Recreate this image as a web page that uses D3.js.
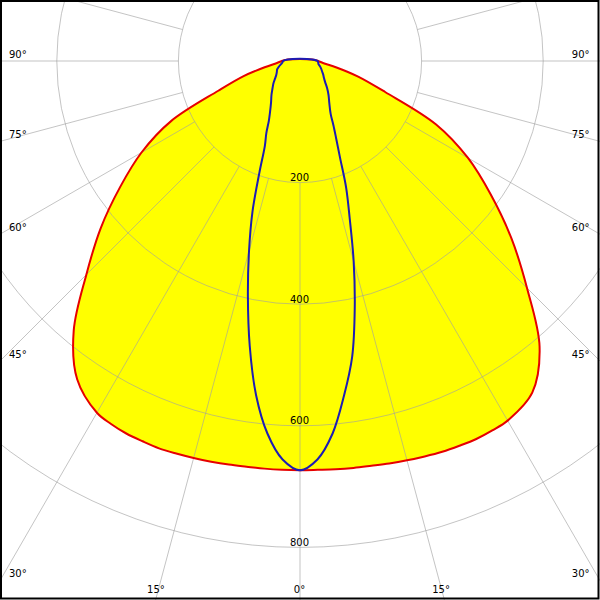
<!DOCTYPE html>
<html><head><meta charset="utf-8">
<script src="https://cdn.jsdelivr.net/npm/d3@7"></script>
<style>html,body{margin:0;padding:0;background:#fff}svg{display:block}</style>
</head><body>
<svg id="c" width="600" height="600"></svg>
<script>
// gamma angles (degrees from nadir)
const angles    = [0,2.5,5,7.5,10,12.5,15,17.5,20,22.5,25,27.5,30,35,40,45,50,55,60,65,70,75,80,85,90,97.5];
// C180 plane (left half) and C0 plane (right half), cd/klm
const redLeft   = [673,673,673,673,674,675,676,677,678,677,676,673,668,639,579,497,428,361,301,234,143,96,59,38,30,20];
const redRight  = [673,673,674,675,676,678,680,682,684,685,686,685,683,666,613,528,454,383,319,247,149,99,61,38,30,20];
// C270 plane (left half) and C90 plane (right half)
const blueLeft  = [673,656,615,554,476,396,324,260,195,151,131,111,99,83,73,64,57,50,45,42,40,36,32,29,28,20];
const blueRight = [673,656,615,555,494,416,341,272,222,172,141,119,101,84,73,63,54,48,44,40,37,34,31,30,29,20];
const ringValues = [200,400,600,800];
const sideAngleLabels = [90,75,60,45,30];
const bottomAngleLabels = [15,0];

const W = 600, H = 600, cx = 300, cy = 61;
const rad = d => d * Math.PI / 180;
const r = d3.scaleLinear().domain([0, 1000]).range([0, 608]);
const svg = d3.select('#c');
svg.append('rect').attr('width', W).attr('height', H).attr('fill', '#fff');

function curvePoints(left, right) {
  const pts = [];
  for (let i = angles.length - 1; i >= 0; i--) pts.push([Math.PI - rad(angles[i]), r(right[i])]);
  for (let i = 1; i < angles.length; i++) pts.push([Math.PI + rad(angles[i]), r(left[i])]);
  return pts;
}
const radial = d3.lineRadial().angle(d => d[0]).radius(d => d[1]).curve(d3.curveCatmullRomClosed.alpha(0.5));

const plot = svg.append('g').attr('transform', `translate(${cx},${cy})`);
const redPts = curvePoints(redLeft, redRight);
const bluePts = curvePoints(blueLeft, blueRight);

plot.append('path').attr('d', radial(redPts)).attr('fill', '#ffff00').attr('stroke', 'none');

// grid
const grid = plot.append('g').attr('stroke', '#a0a0a0').attr('stroke-opacity', 0.62).attr('fill', 'none').attr('stroke-width', 1);
grid.selectAll('circle').data(ringValues).join('circle').attr('r', d => r(d));
grid.selectAll('line').data(d3.range(-180, 180, 15)).join('line')
  .attr('x1', d => r(200) * Math.sin(rad(d))).attr('y1', d => r(200) * Math.cos(rad(d)))
  .attr('x2', d => 1500 * Math.sin(rad(d))).attr('y2', d => 1500 * Math.cos(rad(d)));

plot.append('path').attr('d', radial(redPts)).attr('fill', 'none').attr('stroke', '#e60000').attr('stroke-width', 2);
plot.append('path').attr('d', radial(bluePts)).attr('fill', 'none').attr('stroke', '#1c1cb4').attr('stroke-width', 2);

// labels
const font = '"DejaVu Sans", sans-serif';
const lab = svg.append('g').attr('font-family', font).attr('font-size', 10).attr('fill', '#000');
sideAngleLabels.forEach(a => {
  const y = cy + (a === 90 ? 0 : cx / Math.tan(rad(a))) - 3.5;
  lab.append('text').attr('x', 9).attr('y', y).attr('text-anchor', 'start').text(a + '°');
  lab.append('text').attr('x', W - 10.5).attr('y', y).attr('text-anchor', 'end').text(a + '°');
});
bottomAngleLabels.forEach(a => {
  const y = 593;
  const dx = (y - cy) * Math.tan(rad(a));
  lab.append('text').attr('x', cx - dx - 1.5 + (a === 0 ? 1 : 0)).attr('y', y).attr('text-anchor', 'middle').text(a + '°');
  if (a !== 0) lab.append('text').attr('x', cx + dx - 1.5).attr('y', y).attr('text-anchor', 'middle').text(a + '°');
});
ringValues.forEach(v => {
  lab.append('text').attr('x', cx - 0.5).attr('y', cy + r(v) - 1.5).attr('text-anchor', 'middle').text(v);
});

// frame
svg.append('rect').attr('x', 1).attr('y', 1).attr('width', 597.5).attr('height', 597.5)
  .attr('fill', 'none').attr('stroke', '#000').attr('stroke-width', 2);
</script>
</body></html>
